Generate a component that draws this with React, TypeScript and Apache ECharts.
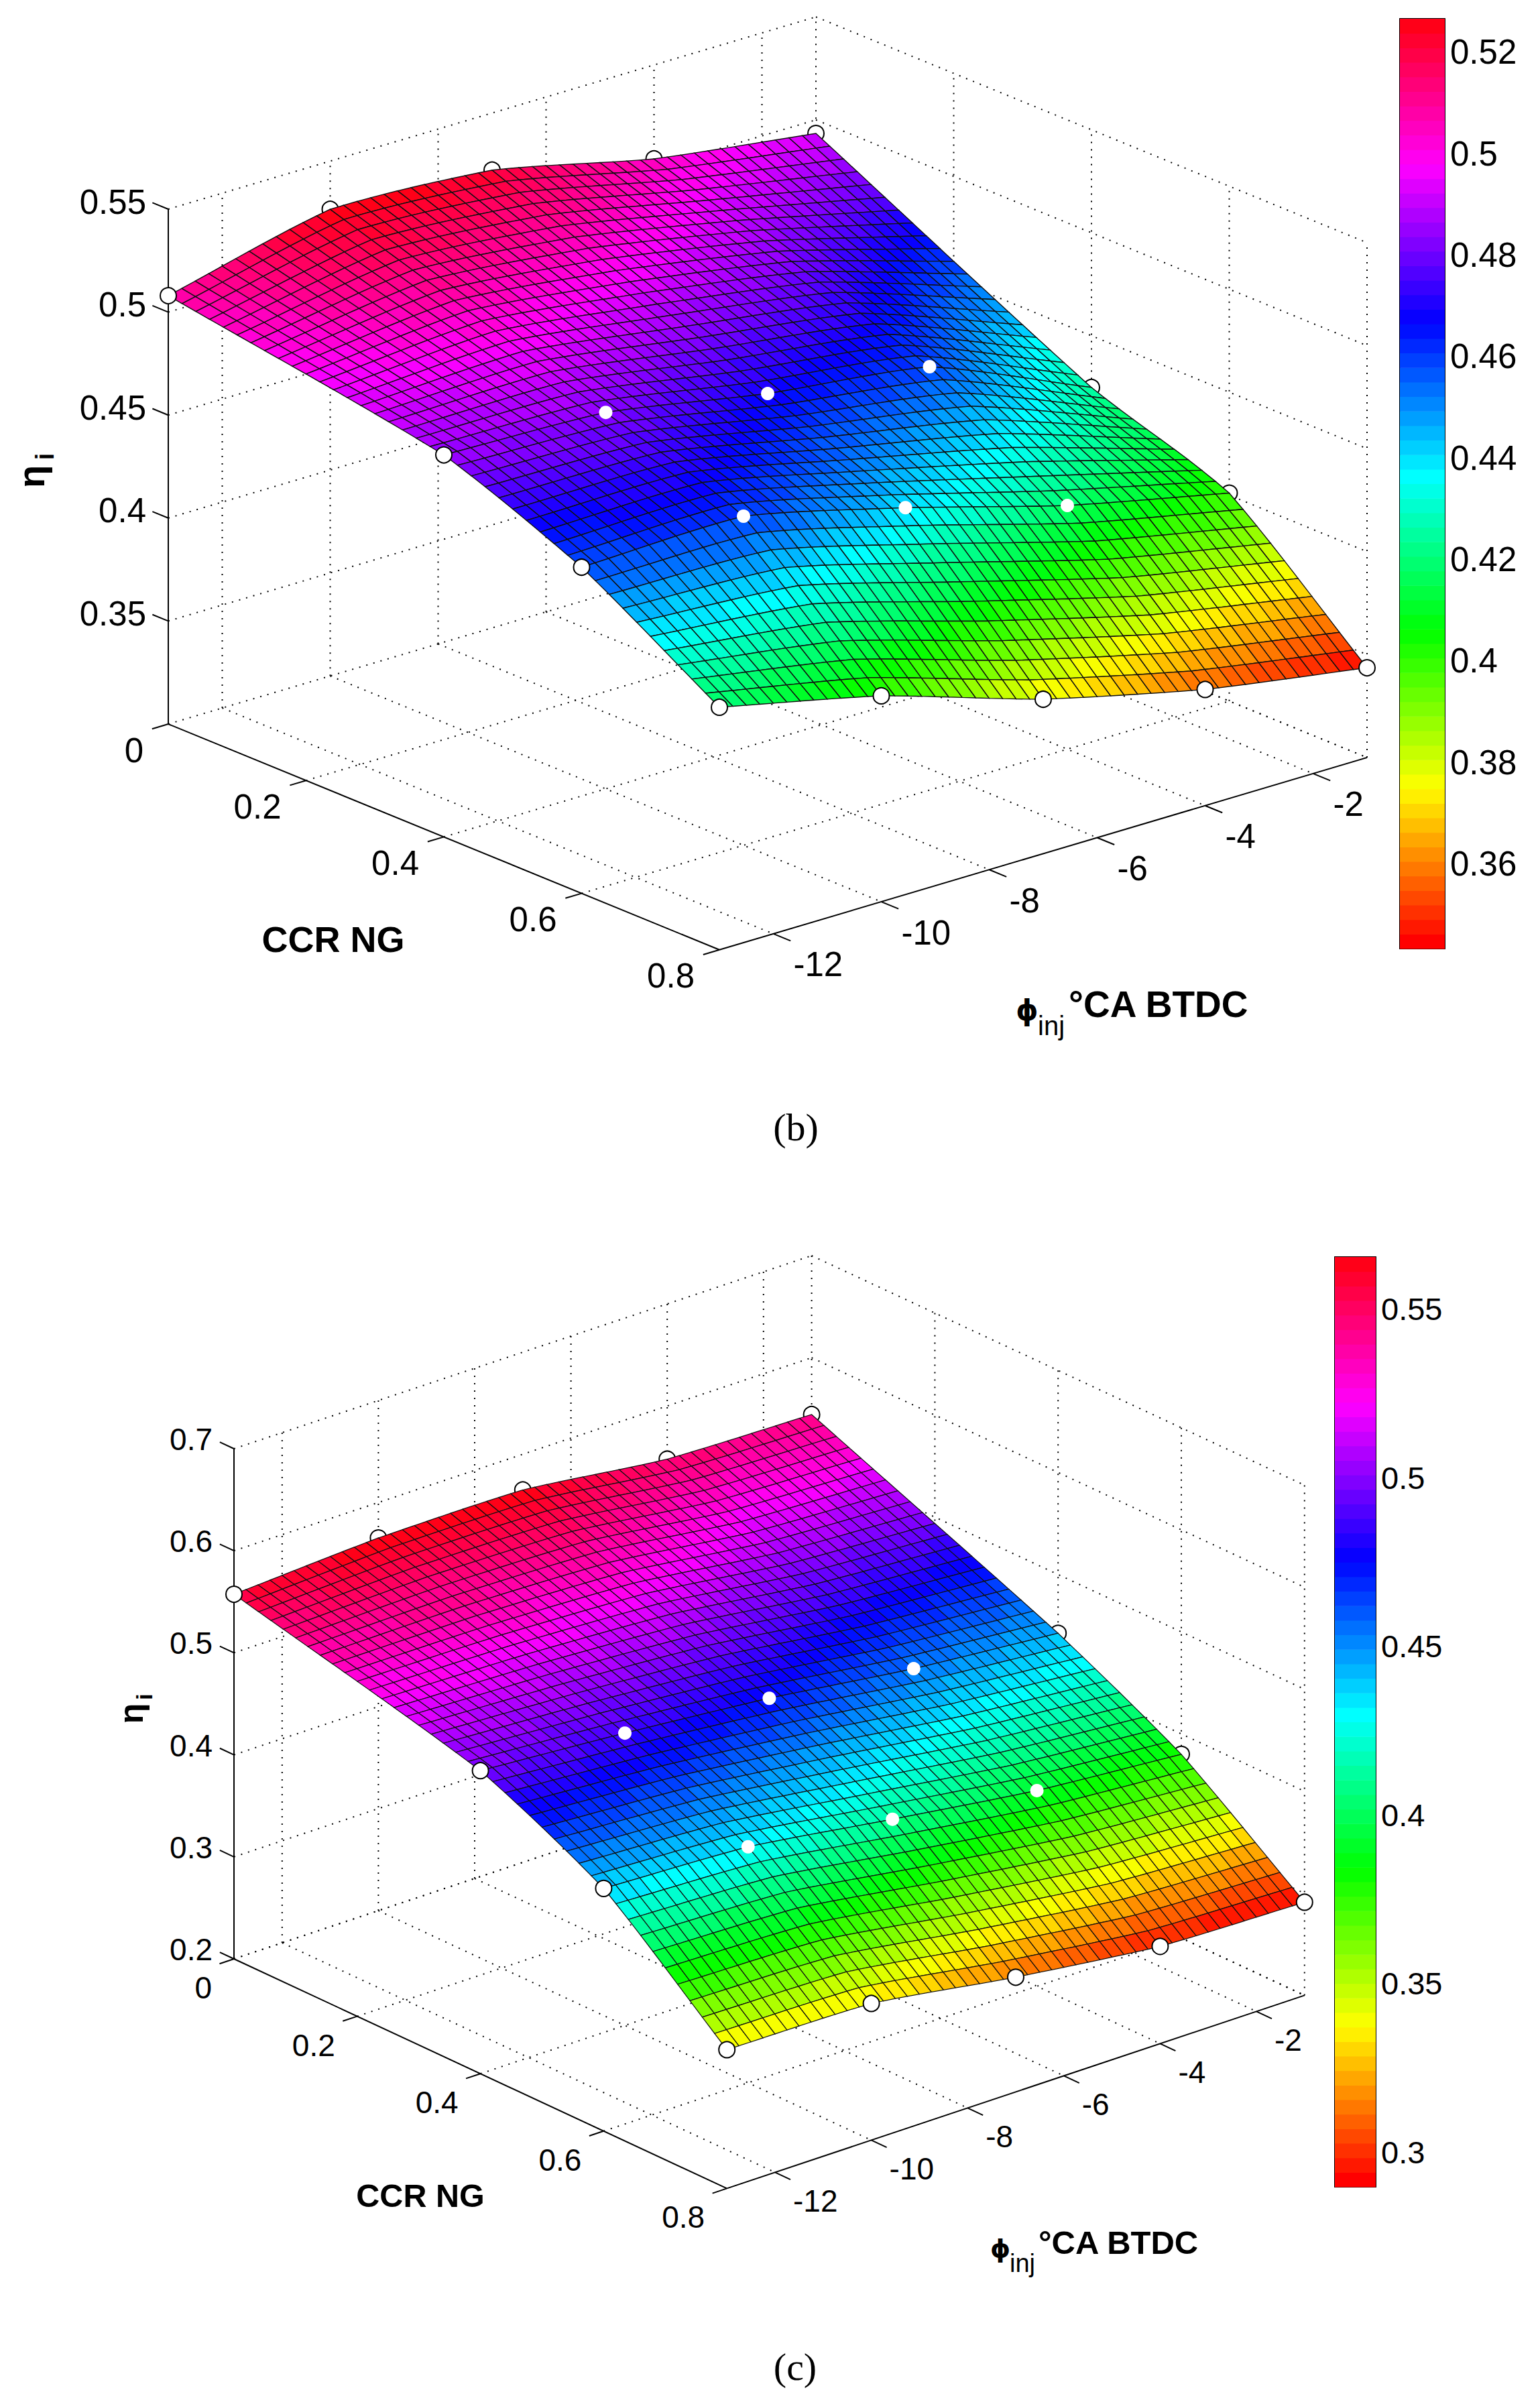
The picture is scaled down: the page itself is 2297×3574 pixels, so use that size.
import React, { useEffect, useRef } from "react";
import * as echarts from "echarts";

// ---------- values ----------
const ccrKnots = [0, 0.4, 0.6, 0.8];
const phiKnots = [-13, -10, -7, -4, -1];
const ccrTicks = [0, 0.2, 0.4, 0.6, 0.8];
const phiTicks = [-12, -10, -8, -6, -4, -2];

const etaB = [
  [0.508, 0.5266, 0.5223, 0.5044, 0.4934],
  [0.4855, 0.4828, 0.4686, 0.4583, 0.4249],
  [0.4584, 0.4598, 0.4406, 0.4183, 0.401],
  [0.4178, 0.4, 0.375, 0.3564, 0.3436],
];
const etaC = [
  [0.5574, 0.5653, 0.565, 0.5479, 0.5443],
  [0.497, 0.4865, 0.4733, 0.455, 0.4424],
  [0.4378, 0.4313, 0.411, 0.3918, 0.38],
  [0.336, 0.334, 0.3124, 0.2953, 0.2913],
];
const zTicksB = [0.35, 0.4, 0.45, 0.5, 0.55];
const zTicksC = [0.2, 0.3, 0.4, 0.5, 0.6, 0.7];
const barTicksB = [0.36, 0.38, 0.4, 0.42, 0.44, 0.46, 0.48, 0.5, 0.52];
const barTicksC = [0.3, 0.35, 0.4, 0.45, 0.5, 0.55];

// ---------- layout ----------
const W = 2297;
const H = 3574;
const FONT = '"Liberation Sans", Arial, sans-serif';

const panelB = {
  x0: 251, y0: 1080, cx: 1027.5, cy: 421, px: 80.5, py: -23.9, zs: 3072,
  zMin: 0.3, zMax: 0.55, eta: etaB, zTicks: zTicksB,
  barMin: 0.3433, barMax: 0.5266, fs: 51, mesh: 1.4,
  zLab: [-33, -11], cLab: [-37, 39], pLab: [30, 46],
  bar: { left: 2088, top: 28, width: 67, height: 1387 }, barTicks: barTicksB, barLabelSize: 51,
  ccrTitle: { x: 497, y: 1401, s: 54 },
  phi: { x: 1532, y: 1507, s: 42 }, inj: { x: 1548, y: 1530, s: 40 }, ca: { x: 1594, y: 1498, s: 55 },
  etaSym: { x: 46, y: 711, s: 56 }, etaSub: { x: 67, y: 681, s: 38 },
  caption: { text: "(b)", x: 1187, y: 1681 },
};
const panelC = {
  x0: 349, y0: 2922, cx: 919, cy: 428, px: 71.8, py: -24, zs: 1522,
  zMin: 0.2, zMax: 0.7, eta: etaC, zTicks: zTicksC,
  barMin: 0.2897, barMax: 0.5654, fs: 46, mesh: 1.2,
  zLab: [-32, -14], cLab: [-33, 43], pLab: [27, 43],
  bar: { left: 1991, top: 1875, width: 61, height: 1387 }, barTicks: barTicksC, barLabelSize: 47,
  ccrTitle: { x: 627, y: 3275, s: 48.5 },
  phi: { x: 1492, y: 3354, s: 38 }, inj: { x: 1506, y: 3376, s: 38 }, ca: { x: 1549, y: 3345, s: 49 },
  etaSym: { x: 196, y: 2556, s: 50 }, etaSub: { x: 215, y: 2531, s: 34 },
  caption: { text: "(c)", x: 1186, y: 3530 },
};
const panels = [panelB, panelC];

// markers half hidden behind the surface; [row, col]
const behindMarkers = [[0, 1], [0, 2], [0, 3], [0, 4], [1, 4], [2, 4]];
const interiorMarkers = [[1, 1], [1, 2], [1, 3], [2, 1], [2, 2], [2, 3]];

const CCR_STEPS = [20, 10, 10];
const PHI_STEPS = [12, 12, 12, 12];
const CUBIC_SHARE = 0.45;

// ---------- helpers ----------
type P = typeof panelB;

function project(p: P, c: number, phi: number, z: number): number[] {
  return [
    p.x0 + p.cx * c + p.px * (phi + 13),
    p.y0 + p.cy * c + p.py * (phi + 13) - p.zs * (z - p.zMin),
  ];
}

function hsvBand(i: number): string {
  const h = (i / 64) * 6;
  const s = Math.floor(h) % 6;
  const f = h - Math.floor(h);
  const u = Math.round(255 * f);
  const d = 255 - u;
  const rgb = [
    [255, u, 0], [d, 255, 0], [0, 255, u], [0, d, 255], [u, 0, 255], [255, 0, d],
  ][s];
  return `rgb(${rgb[0]},${rgb[1]},${rgb[2]})`;
}

function bandColor(p: P, v: number): string {
  const t = (v - p.barMin) / (p.barMax - p.barMin);
  return hsvBand(Math.max(0, Math.min(63, Math.floor(t * 64))));
}

// surface patch through the knots: mostly straight, with some cubic rounding
function smooth(xs: number[], ys: number[], x: number): number {
  const n = xs.length;
  let k = 0;
  while (k < n - 2 && x > xs[k + 1]) k++;
  const slope = (i: number) => {
    if (i === 0) return (ys[1] - ys[0]) / (xs[1] - xs[0]);
    if (i === n - 1) return (ys[n - 1] - ys[n - 2]) / (xs[n - 1] - xs[n - 2]);
    return (ys[i + 1] - ys[i - 1]) / (xs[i + 1] - xs[i - 1]);
  };
  const h = xs[k + 1] - xs[k];
  const t = (x - xs[k]) / h;
  const t2 = t * t;
  const t3 = t2 * t;
  const cubic =
    (2 * t3 - 3 * t2 + 1) * ys[k] +
    (t3 - 2 * t2 + t) * h * slope(k) +
    (-2 * t3 + 3 * t2) * ys[k + 1] +
    (t3 - t2) * h * slope(k + 1);
  const straight = ys[k] + (ys[k + 1] - ys[k]) * t;
  return CUBIC_SHARE * cubic + (1 - CUBIC_SHARE) * straight;
}

function surfaceAt(p: P, c: number, phi: number): number {
  const col = p.eta.map((row) => smooth(phiKnots, row, phi));
  return smooth(ccrKnots, col, c);
}

function surfaceSeries(p: P, z: number) {
  const patches: number[][] = [];
  for (let i = 0; i < ccrKnots.length - 1; i++)
    for (let j = 0; j < phiKnots.length - 1; j++) patches.push([i, j]);
  return {
    type: "custom",
    coordinateSystem: "cartesian2d",
    xAxisIndex: 0,
    yAxisIndex: 0,
    silent: true,
    clip: false,
    z,
    progressive: 0,
    data: patches,
    renderItem: (params: any, api: any) => {
      const [i, j] = patches[params.dataIndex];
      const nc = CCR_STEPS[i];
      const np = PHI_STEPS[j];
      const c0 = ccrKnots[i];
      const c1 = ccrKnots[i + 1];
      const p0 = phiKnots[j];
      const p1 = phiKnots[j + 1];
      const children: any[] = [];
      for (let a = 0; a < nc; a++) {
        const ca = c0 + ((c1 - c0) * a) / nc;
        const cb = c0 + ((c1 - c0) * (a + 1)) / nc;
        for (let b = 0; b < np; b++) {
          const pa = p0 + ((p1 - p0) * b) / np;
          const pb = p0 + ((p1 - p0) * (b + 1)) / np;
          const corners = [[ca, pa], [ca, pb], [cb, pb], [cb, pa]];
          const vals = corners.map(([cc, pp]) => surfaceAt(p, cc, pp));
          const avg = (vals[0] + vals[1] + vals[2] + vals[3]) / 4;
          children.push({
            type: "polygon",
            shape: {
              points: corners.map(([cc, pp], k) => api.coord(project(p, cc, pp, vals[k]))),
            },
            style: { fill: bandColor(p, avg), stroke: "#101010", lineWidth: p.mesh },
            silent: true,
          });
        }
      }
      return { type: "group", children };
    },
  };
}

function frameSegments(p: P) {
  const dotted: number[][][] = [];
  const solid: number[][][] = [];
  const a = -13;
  const b = -1;
  const cEnd = 0.8;
  const seg = (q1: number[], q2: number[]) => [
    project(p, q1[0], q1[1], q1[2]),
    project(p, q2[0], q2[1], q2[2]),
  ];
  for (const z of p.zTicks) {
    dotted.push(seg([0, a, z], [0, b, z]));
    dotted.push(seg([0, b, z], [cEnd, b, z]));
  }
  dotted.push(seg([0, a, p.zMin], [0, b, p.zMin]));
  dotted.push(seg([0, b, p.zMin], [cEnd, b, p.zMin]));
  for (const ph of phiTicks.concat([b])) {
    dotted.push(seg([0, ph, p.zMin], [0, ph, p.zMax]));
    dotted.push(seg([0, ph, p.zMin], [cEnd, ph, p.zMin]));
  }
  for (const c of ccrTicks.slice(1)) {
    dotted.push(seg([c, b, p.zMin], [c, b, p.zMax]));
    if (c < cEnd) dotted.push(seg([c, a, p.zMin], [c, b, p.zMin]));
  }
  solid.push(seg([0, a, p.zMin], [0, a, p.zMax]));
  solid.push(seg([0, a, p.zMin], [cEnd, a, p.zMin]));
  solid.push(seg([cEnd, a, p.zMin], [cEnd, b, p.zMin]));
  for (const z of p.zTicks) solid.push(seg([0, a, z], [-0.023, a, z]));
  for (const c of ccrTicks) solid.push(seg([c, a, p.zMin], [c, a - 0.3, p.zMin]));
  for (const ph of phiTicks) solid.push(seg([cEnd, ph, p.zMin], [cEnd + 0.025, ph, p.zMin]));
  return { dotted, solid };
}

function lineSeries(segs: number[][][], style: any, z: number) {
  return {
    type: "custom",
    coordinateSystem: "cartesian2d",
    xAxisIndex: 0,
    yAxisIndex: 0,
    silent: true,
    clip: false,
    z,
    progressive: 0,
    data: segs.map((s) => s[0]),
    renderItem: (params: any, api: any) => {
      const s = segs[params.dataIndex];
      const q1 = api.coord(s[0]);
      const q2 = api.coord(s[1]);
      return {
        type: "line",
        shape: { x1: q1[0], y1: q1[1], x2: q2[0], y2: q2[1] },
        style: { fill: null, ...style },
        silent: true,
      };
    },
  };
}

type Lab = {
  x: number; y: number; text: string; size: number; weight?: string;
  align?: string; family?: string; rot?: number;
};

function panelLabels(p: P): Lab[] {
  const out: Lab[] = [];
  const num = (v: number) => String(v);
  for (const z of p.zTicks) {
    const q = project(p, 0, -13, z);
    out.push({ x: q[0] + p.zLab[0], y: q[1] + p.zLab[1], text: num(z), size: p.fs, align: "right" });
  }
  for (const c of ccrTicks) {
    const q = project(p, c, -13, p.zMin);
    out.push({ x: q[0] + p.cLab[0], y: q[1] + p.cLab[1], text: num(c), size: p.fs, align: "right" });
  }
  for (const ph of phiTicks) {
    const q = project(p, 0.8, ph, p.zMin);
    out.push({ x: q[0] + p.pLab[0], y: q[1] + p.pLab[1], text: num(ph), size: p.fs, align: "left" });
  }
  out.push({ x: p.ccrTitle.x, y: p.ccrTitle.y, text: "CCR NG", size: p.ccrTitle.s, weight: "bold", align: "center" });
  out.push({ x: p.phi.x, y: p.phi.y, text: "ϕ", size: p.phi.s, weight: "bold", align: "center", family: '"DejaVu Sans", sans-serif' });
  out.push({ x: p.inj.x, y: p.inj.y, text: "inj", size: p.inj.s, align: "left" });
  out.push({ x: p.ca.x, y: p.ca.y, text: "°CA BTDC", size: p.ca.s, weight: "bold", align: "left" });
  out.push({ x: p.etaSym.x, y: p.etaSym.y, text: "η", size: p.etaSym.s, weight: "bold", align: "center", rot: Math.PI / 2 });
  out.push({ x: p.etaSub.x, y: p.etaSub.y, text: "i", size: p.etaSub.s, weight: "bold", align: "center", rot: Math.PI / 2 });
  out.push({ x: p.caption.x, y: p.caption.y, text: p.caption.text, size: 58, align: "center", family: '"Liberation Serif", serif' });
  return out;
}

function labelSeries(labs: Lab[], z: number) {
  return {
    type: "custom",
    coordinateSystem: "cartesian2d",
    xAxisIndex: 0,
    yAxisIndex: 0,
    silent: true,
    clip: false,
    z,
    progressive: 0,
    data: labs.map((l) => [l.x, l.y]),
    renderItem: (params: any, api: any) => {
      const l = labs[params.dataIndex];
      const q = api.coord([l.x, l.y]);
      return {
        type: "text",
        x: q[0],
        y: q[1],
        rotation: l.rot || 0,
        silent: true,
        style: {
          text: l.text,
          fill: "#000",
          font: `${l.weight || "normal"} ${l.size}px ${l.family || FONT}`,
          align: l.align || "center",
          verticalAlign: "middle",
          textAlign: l.align || "center",
          textVerticalAlign: "middle",
        },
      };
    },
  };
}

function markerSeries(p: P, cells: number[][], size: number, stroked: boolean, z: number) {
  return {
    type: "scatter",
    coordinateSystem: "cartesian2d",
    xAxisIndex: 0,
    yAxisIndex: 0,
    silent: true,
    z,
    symbol: "circle",
    symbolSize: size,
    itemStyle: { color: "#fff", borderColor: stroked ? "#000" : "#fff", borderWidth: stroked ? 2 : 0, opacity: 1 },
    data: cells.map(([r, k]) => project(p, ccrKnots[r], phiKnots[k], p.eta[r][k])),
  };
}

function colorbarSeries(p: P, xAxisIndex: number, yAxisIndex: number) {
  const bands = Array.from({ length: 64 }, (_, i) => i);
  const step = (p.barMax - p.barMin) / 64;
  return {
    type: "custom",
    coordinateSystem: "cartesian2d",
    xAxisIndex,
    yAxisIndex,
    silent: true,
    z: 2,
    progressive: 0,
    data: bands.map((i) => [0, p.barMin + i * step]),
    renderItem: (params: any, api: any) => {
      const i = bands[params.dataIndex];
      const a = api.coord([0, p.barMin + (i + 1) * step]);
      const b = api.coord([1, p.barMin + i * step]);
      return {
        type: "rect",
        shape: { x: a[0], y: a[1], width: b[0] - a[0], height: b[1] - a[1] + 0.6 },
        style: { fill: hsvBand(i) },
        silent: true,
      };
    },
  };
}

function buildOption() {
  const grids: any[] = [{ left: 0, top: 0, width: W, height: H, containLabel: false }];
  const xAxes: any[] = [{ type: "value", gridIndex: 0, min: 0, max: W, show: false }];
  const yAxes: any[] = [{ type: "value", gridIndex: 0, min: 0, max: H, inverse: true, show: false }];
  const series: any[] = [];

  panels.forEach((p) => {
    const frame = frameSegments(p);
    series.push(lineSeries(frame.dotted, { stroke: "#000", lineWidth: 2, lineDash: [2, 9] }, 2));
    series.push(lineSeries(frame.solid, { stroke: "#000", lineWidth: 2 }, 3));
    series.push(labelSeries(panelLabels(p), 9));

    const allFront: number[][] = [];
    for (let r = 0; r < 4; r++)
      for (let k = 0; k < 5; k++) {
        const key = `${r},${k}`;
        const skip =
          behindMarkers.some(([a, b]) => `${a},${b}` === key) ||
          interiorMarkers.some(([a, b]) => `${a},${b}` === key);
        if (!skip) allFront.push([r, k]);
      }
    series.push(markerSeries(p, behindMarkers, 24, true, 4));
    series.push(surfaceSeries(p, 5));
    series.push(markerSeries(p, interiorMarkers, 20, false, 6));
    series.push(markerSeries(p, allFront, 24, true, 6));

    const gridIndex = grids.length;
    grids.push({ ...p.bar, containLabel: false });
    const xi = xAxes.length;
    xAxes.push({
      type: "value", gridIndex, min: 0, max: 1, position: "bottom",
      axisLine: { show: true, onZero: false, lineStyle: { color: "#000", width: 2 } },
      axisTick: { show: false }, axisLabel: { show: false }, splitLine: { show: false },
    });
    xAxes.push({
      type: "value", gridIndex, min: 0, max: 1, position: "top",
      axisLine: { show: true, onZero: false, lineStyle: { color: "#000", width: 2 } },
      axisTick: { show: false }, axisLabel: { show: false }, splitLine: { show: false },
    });
    const yi = yAxes.length;
    const tickBase = {
      show: true, inside: true, length: 14, customValues: p.barTicks,
      lineStyle: { color: "#000", width: 2 },
    };
    yAxes.push({
      type: "value", gridIndex, min: p.barMin, max: p.barMax, position: "left",
      axisLine: { show: true, onZero: false, lineStyle: { color: "#000", width: 2 } },
      axisTick: tickBase, axisLabel: { show: false }, splitLine: { show: false },
    });
    yAxes.push({
      type: "value", gridIndex, min: p.barMin, max: p.barMax, position: "right",
      axisLine: { show: true, onZero: false, lineStyle: { color: "#000", width: 2 } },
      axisTick: tickBase,
      axisLabel: {
        show: true, inside: false, margin: 8, customValues: p.barTicks, color: "#000",
        fontFamily: "Liberation Sans", fontSize: p.barLabelSize,
        showMinLabel: true, showMaxLabel: true, hideOverlap: false,
      },
      splitLine: { show: false },
    });
    series.push(colorbarSeries(p, xi, yi));
  });

  return {
    animation: false,
    backgroundColor: "#ffffff",
    tooltip: { show: false },
    grid: grids,
    xAxis: xAxes,
    yAxis: yAxes,
    series,
  };
}

export default function App() {
  const ref = useRef<HTMLDivElement | null>(null);
  useEffect(() => {
    if (!ref.current) return;
    const chart = echarts.init(ref.current, undefined, { renderer: "svg" });
    chart.setOption(buildOption() as any);
    return () => chart.dispose();
  }, []);
  return <div ref={ref} style={{ position: "absolute", left: 0, top: 0, width: W, height: H }} />;
}
